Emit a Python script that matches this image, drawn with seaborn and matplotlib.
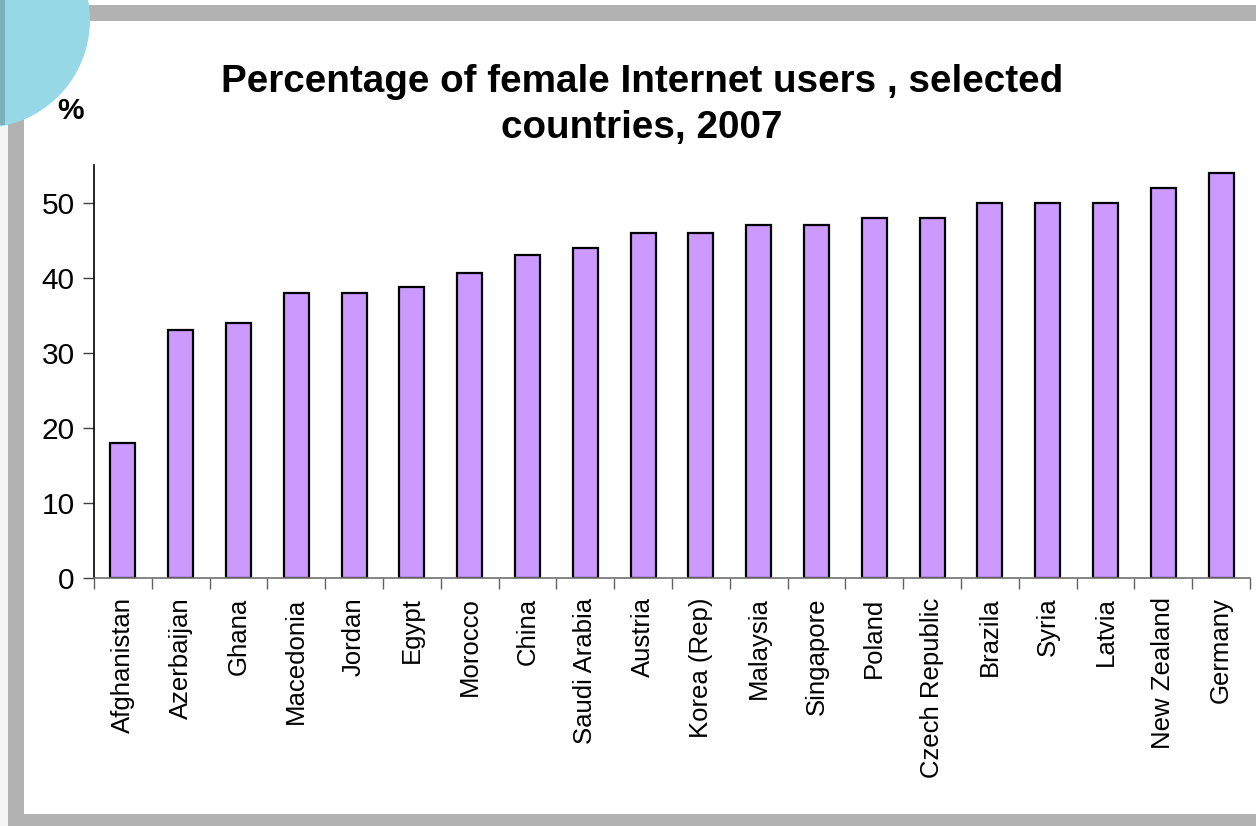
import matplotlib
matplotlib.use("Agg")
import matplotlib.pyplot as plt
from matplotlib.patches import Rectangle, Circle
import seaborn as sns
import pandas as pd

countries = ["Afghanistan", "Azerbaijan", "Ghana", "Macedonia", "Jordan", "Egypt",
             "Morocco", "China", "Saudi Arabia", "Austria", "Korea (Rep)", "Malaysia",
             "Singapore", "Poland", "Czech Republic", "Brazila", "Syria", "Latvia",
             "New Zealand", "Germany"]
values = [18, 33, 34, 38, 38, 38.7, 40.6, 43, 44, 46, 46, 47, 47, 48, 48, 50, 50, 50, 52, 54]
yticks = [0, 10, 20, 30, 40, 50]
title_line1 = "Percentage of female Internet users , selected"
title_line2 = "countries, 2007"

sns.set_style("white")
plt.rcParams['font.family'] = ['Liberation Sans', 'DejaVu Sans']
plt.rcParams['text.color'] = 'black'
plt.rcParams['xtick.color'] = 'black'
plt.rcParams['ytick.color'] = 'black'

W, H = 1256, 826
fig = plt.figure(figsize=(W / 100, H / 100), dpi=100)
fig.patch.set_facecolor("white")

def px(x, y):
    return x / W, 1 - y / H

# faint left strip
fig.add_artist(Rectangle((0, 0), 8 / W, 1, transform=fig.transFigure,
                         facecolor="#f5f5f5", edgecolor="none", zorder=0))
# gray frame
frame_c = "#b2b2b2"
fig.add_artist(Rectangle(px(8, 21), 1, 16 / H, transform=fig.transFigure,
                         facecolor=frame_c, edgecolor="none", zorder=1))
fig.add_artist(Rectangle(px(8, 830), 16 / W, 825 / H, transform=fig.transFigure,
                         facecolor=frame_c, edgecolor="none", zorder=1))
fig.add_artist(Rectangle(px(8, 830), 1, 16 / H, transform=fig.transFigure,
                         facecolor=frame_c, edgecolor="none", zorder=1))
# blue circle decoration (top-left), in display pixels
circ = Circle((-18, H - 20), 108, transform=None, facecolor="#96d8e6", edgecolor="none", zorder=2)
fig.add_artist(circ)
fig.add_artist(Rectangle((0, 1 - 125 / H), 5 / W, 125 / H, transform=fig.transFigure,
                         facecolor="#7ab0bb", edgecolor="none", zorder=3))

ax = fig.add_axes([94 / W, 248 / H, (1250 - 94) / W, (578 - 165) / H])
ax.set_facecolor("none")
df = pd.DataFrame({"country": countries, "value": values})
sns.barplot(data=df, x="country", y="value", color="#cc99ff", saturation=1,
            edgecolor="black", linewidth=1.6, width=0.43, ax=ax)
ax.set_xlim(-0.5, len(countries) - 0.5)
ax.set_ylim(0, 55)
ax.set_yticks(yticks)
ax.set_yticklabels([str(v) for v in yticks], fontsize=21.5, color="black")
ax.set_xticks(range(len(countries)))
ax.set_xticklabels(countries, rotation=90, fontsize=18.5, va="top", ha="center", color="black")
ax.set_xticks([i - 0.5 for i in range(len(countries) + 1)], minor=True)
ax.tick_params(axis="x", which="major", length=0, pad=14)
ax.tick_params(axis="x", which="minor", length=8, width=1, color="#606060", direction="out", bottom=True)
ax.tick_params(axis="y", which="major", length=8, width=1, color="#404040", direction="out", left=True, pad=6)
ax.set_xlabel("")
ax.set_ylabel("")
for s in ["top", "right"]:
    ax.spines[s].set_visible(False)
ax.spines["left"].set_color("black")
ax.spines["left"].set_linewidth(1.2)
ax.spines["bottom"].set_color("#707070")
ax.spines["bottom"].set_linewidth(1.2)

fig.text(642 / W, 1 - 92 / H, title_line1, ha="center", va="baseline",
         fontsize=27.8, fontweight="bold", color="black")
fig.text(642 / W, 1 - 138 / H, title_line2, ha="center", va="baseline",
         fontsize=27.8, fontweight="bold", color="black")
fig.text(70 / W, 1 - 119 / H, "%", ha="center", va="baseline", fontsize=21.5,
         fontweight="bold", color="black")

fig.savefig("out.png", dpi=100)
